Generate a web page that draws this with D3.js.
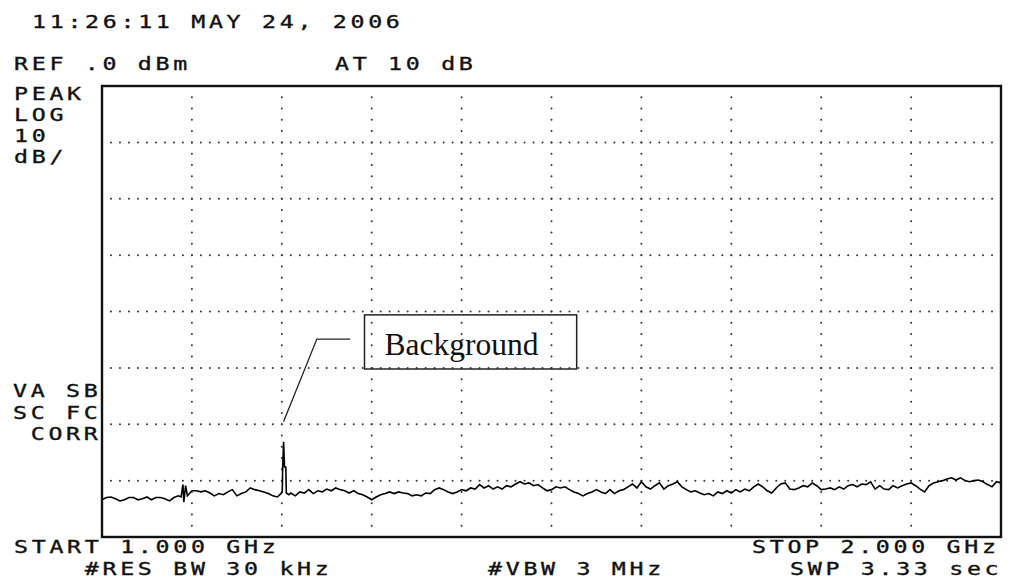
<!DOCTYPE html>
<html>
    <head>
        <title>Spectrum Analyzer Trace</title>
        <meta http-equiv="Content-Type" content="text/html; charset=UTF-8">
        <script src="https://d3js.org/d3.v7.min.js"></script>
        <style>
            body { margin: 0; background: #fff; }
            .inst { font-family: "DejaVu Sans Mono", monospace; font-size: 17.5px; fill: #111; stroke: #111; stroke-width: 0.35px; white-space: pre; }
            .note { font-family: "Liberation Serif", "Times New Roman", serif; font-size: 31.5px; fill: #111; }
        </style>
    </head>
    <body>
        <div id="screen"></div>
        <script>
            // instrument readout text
            var headerLines = ["11:26:11 MAY 24, 2006"];
            var refLabels = ["REF .0 dBm", "AT 10 dB"];
            var scaleLabels = ["PEAK", "LOG", "10", "dB/"];
            var statusLabels = ["VA SB", "SC FC", " CORR"];
            var footerLeft = ["START 1.000 GHz", "    #RES BW 30 kHz"];
            var footerMid = ["#VBW 3 MHz"];
            var footerRight = ["STOP 2.000 GHz", "SWP 3.33 sec"];

            // sweep settings
            var startMHz = 1000, stopMHz = 2000;
            var refLevel = 0, dbPerDiv = 10, vDivs = 8, hDivs = 10;

            // trace: [frequency MHz, level dBm]
            var trace = [
                [1000,-73.4],[1005,-73.0],[1010,-72.9],[1015,-73.2],[1020,-73.6],[1025,-73.4],[1030,-73.0],[1035,-73.0],
                [1040,-73.4],[1045,-73.2],[1050,-72.9],[1055,-73.4],[1060,-73.0],[1065,-73.0],[1070,-73.2],[1075,-73.6],
                [1080,-73.0],[1085,-72.7],[1088,-72.9],[1090,-70.7],[1091,-73.8],[1093,-70.9],[1095,-72.7],[1100,-71.8],
                [1105,-71.8],[1110,-72.0],[1115,-71.8],[1120,-72.2],[1125,-72.7],[1130,-72.3],[1135,-72.5],[1140,-72.0],
                [1145,-71.6],[1150,-72.7],[1155,-72.3],[1160,-72.0],[1165,-71.3],[1170,-71.6],[1175,-71.8],[1180,-72.0],
                [1185,-72.3],[1190,-72.7],[1195,-72.9],[1199,-72.3],[1200.5,-72.0],[1201,-67.6],[1202,-63.1],[1203,-67.6],
                [1204.5,-67.6],[1205,-72.2],[1208,-72.5],[1210,-72.2],[1215,-72.7],[1220,-72.0],[1225,-72.2],[1230,-71.6],
                [1235,-72.3],[1240,-71.8],[1245,-72.0],[1250,-71.5],[1255,-71.8],[1260,-71.3],[1265,-71.6],[1270,-71.8],
                [1275,-72.2],[1280,-71.8],[1285,-72.3],[1290,-72.5],[1295,-72.9],[1300,-73.4],[1305,-72.9],[1310,-72.5],
                [1315,-72.3],[1320,-72.0],[1325,-72.3],[1330,-72.0],[1335,-72.2],[1340,-72.3],[1345,-72.7],[1350,-72.5],
                [1355,-72.7],[1360,-72.2],[1365,-72.3],[1370,-71.6],[1375,-71.3],[1380,-71.6],[1385,-72.0],[1390,-72.3],
                [1395,-72.0],[1400,-71.6],[1405,-71.8],[1410,-71.3],[1415,-71.5],[1420,-70.7],[1425,-71.3],[1430,-70.9],
                [1435,-71.5],[1440,-71.1],[1445,-71.5],[1450,-70.9],[1455,-71.1],[1460,-70.6],[1465,-70.2],[1470,-70.6],
                [1475,-70.4],[1480,-70.9],[1485,-70.7],[1490,-71.3],[1495,-71.8],[1500,-71.6],[1505,-71.1],[1510,-71.3],
                [1515,-71.1],[1520,-71.6],[1525,-72.0],[1530,-72.3],[1535,-72.7],[1540,-72.3],[1545,-72.0],[1550,-71.6],
                [1555,-72.0],[1560,-72.3],[1565,-71.6],[1570,-72.3],[1575,-71.8],[1580,-71.6],[1585,-71.1],[1590,-70.6],
                [1595,-71.3],[1600,-70.2],[1605,-71.1],[1610,-71.5],[1615,-70.9],[1620,-70.4],[1625,-71.5],[1630,-70.9],
                [1635,-70.6],[1640,-70.2],[1645,-71.1],[1650,-71.6],[1655,-72.0],[1660,-71.8],[1665,-72.2],[1670,-72.5],
                [1675,-72.3],[1680,-72.7],[1685,-72.0],[1690,-72.3],[1695,-71.8],[1700,-72.2],[1705,-71.6],[1710,-72.0],
                [1715,-71.5],[1720,-71.8],[1725,-71.1],[1730,-70.6],[1735,-71.1],[1740,-71.8],[1745,-72.2],[1750,-71.3],
                [1755,-70.6],[1760,-70.4],[1765,-71.5],[1770,-71.6],[1775,-71.3],[1780,-70.9],[1785,-71.1],[1790,-70.4],
                [1795,-70.9],[1800,-71.6],[1805,-71.5],[1810,-71.3],[1815,-71.6],[1820,-71.1],[1825,-71.5],[1830,-70.9],
                [1835,-70.7],[1840,-71.1],[1845,-70.6],[1850,-70.7],[1855,-70.2],[1860,-71.5],[1865,-70.9],[1870,-71.5],
                [1875,-71.6],[1880,-70.9],[1885,-71.3],[1890,-70.9],[1895,-70.6],[1900,-70.4],[1905,-70.9],[1910,-71.5],
                [1915,-72.0],[1920,-70.9],[1925,-70.4],[1930,-70.2],[1935,-70.0],[1940,-69.7],[1945,-69.5],[1950,-69.9],
                [1955,-69.5],[1960,-70.0],[1965,-70.2],[1970,-70.0],[1975,-69.9],[1980,-70.2],[1985,-70.7],[1990,-71.1],
                [1995,-70.2],[2000,-70.4]
            ];

            // callout: label and its anchor points in MHz / dBm
            var calloutText = "Background";
            var callout = { tip: [1202, -59.5], elbow: [1239, -44.9], end: [1276, -44.9],
                            box: [[1292, -40.6], [1528, -50.2]] };

            var W = 1025, H = 588;
            var plot = {left: 102, top: 86, right: 1001, bottom: 537};

            var svg = d3.select("#screen")
              .append("svg")
                .attr("width", W)
                .attr("height", H);
            svg.append("rect").attr("width", W).attr("height", H).attr("fill", "#fff");

            // scales
            var x = d3.scaleLinear()
                .domain([startMHz, stopMHz])
                .range([plot.left, plot.right]);
            var y = d3.scaleLinear()
                .domain([refLevel - dbPerDiv * vDivs, refLevel])
                .range([plot.bottom, plot.top]);

            // dotted graticule
            var xTicks = d3.range(1, hDivs).map(function(i) { return startMHz + i * (stopMHz - startMHz) / hDivs; });
            var yTicks = d3.range(1, vDivs).map(function(i) { return refLevel - i * dbPerDiv; });
            var hStep = (plot.right - plot.left) / 100;
            var vStep = (plot.bottom - plot.top) / 40;

            svg.selectAll(".hgrid")
              .data(yTicks)
              .enter().append("line")
                .attr("x1", plot.left).attr("x2", plot.right)
                .attr("y1", function(d) { return y(d); })
                .attr("y2", function(d) { return y(d); })
                .attr("stroke", "#333").attr("stroke-width", 2)
                .attr("stroke-linecap", "round")
                .attr("stroke-dasharray", "0 " + hStep);

            svg.selectAll(".vgrid")
              .data(xTicks)
              .enter().append("line")
                .attr("y1", plot.top).attr("y2", plot.bottom)
                .attr("x1", function(d) { return x(d); })
                .attr("x2", function(d) { return x(d); })
                .attr("stroke", "#333").attr("stroke-width", 2)
                .attr("stroke-linecap", "round")
                .attr("stroke-dasharray", "0 " + vStep);

            // frame
            svg.append("rect")
                .attr("x", plot.left).attr("y", plot.top)
                .attr("width", plot.right - plot.left)
                .attr("height", plot.bottom - plot.top)
                .attr("fill", "none")
                .attr("stroke", "#111").attr("stroke-width", 2.4);

            // trace
            var line = d3.line()
                .x(function(d) { return x(d[0]); })
                .y(function(d) { return y(d[1]); });
            svg.append("path")
                .datum(trace)
                .attr("d", line)
                .attr("fill", "none")
                .attr("stroke", "#000")
                .attr("stroke-width", 1.6)
                .attr("stroke-linejoin", "miter");

            // instrument text: wide bitmap-like monospace
            var sx = 1.33, pitch = 17.7;
            function inst(str, px, py) {
                svg.append("text")
                    .attr("class", "inst")
                    .attr("transform", "translate(" + px + "," + py + ") scale(" + sx + ",1)")
                    .attr("letter-spacing", (pitch / sx - 17.5 * 0.602) + "px")
                    .text(str);
            }
            inst(headerLines[0], 32, 28);
            inst(refLabels[0], 14, 70);
            inst(refLabels[1], 335, 70);
            scaleLabels.forEach(function(s, i) { inst(s, 14, 100 + i * 21); });
            statusLabels.forEach(function(s, i) { inst(s, 13, 397 + i * 21.5); });
            inst(footerLeft[0], 14, 553);
            inst(footerLeft[1], 14, 575);
            inst(footerMid[0], 488, 575);
            inst(footerRight[0], 752, 553);
            inst(footerRight[1], 790, 575);

            // callout
            var lead = [callout.tip, callout.elbow, callout.end];
            svg.append("path")
                .attr("d", d3.line()(lead.map(function(p) { return [x(p[0]), y(p[1])]; })))
                .attr("fill", "none").attr("stroke", "#222").attr("stroke-width", 1.3);
            var b0 = callout.box[0], b1 = callout.box[1];
            svg.append("rect")
                .attr("x", x(b0[0])).attr("y", y(b0[1]))
                .attr("width", x(b1[0]) - x(b0[0]))
                .attr("height", y(b1[1]) - y(b0[1]))
                .attr("fill", "none").attr("stroke", "#222").attr("stroke-width", 1.5);
            svg.append("text")
                .attr("class", "note")
                .attr("x", x(b0[0]) + 20)
                .attr("y", y(b0[1]) + 40)
                .text(calloutText);
        </script>
    </body>
</html>
